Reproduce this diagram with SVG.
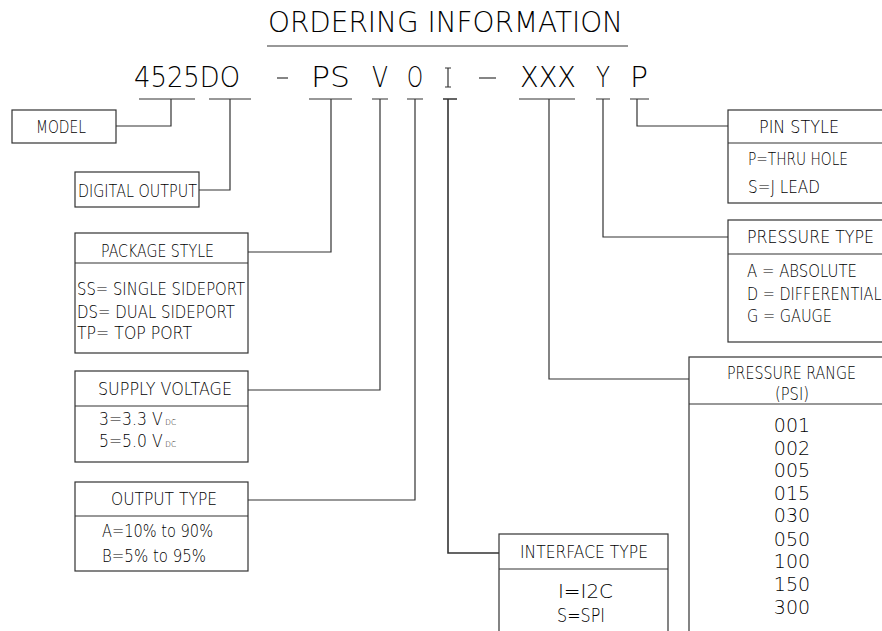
<svg xmlns="http://www.w3.org/2000/svg" width="882" height="631" viewBox="0 0 882 631">
<style>
text{font-family:"DejaVu Sans","Liberation Sans",sans-serif;font-weight:200;fill:#000;}
.t{font-size:17px;}
.big{font-size:28px;}
.num{font-size:19px;}
.sub{font-size:8px;}
rect,line,path{fill:none;stroke:#333;stroke-width:1.2;}
.bx{fill:#fff;}
</style>
<g id="title">
<text class="big" x="268" y="32" textLength="355" lengthAdjust="spacingAndGlyphs">ORDERING INFORMATION</text>
<line x1="267" y1="46" x2="628" y2="46"/>
</g>
<g id="partnumber">
<text class="big" x="134" y="87" textLength="106" lengthAdjust="spacingAndGlyphs">4525DO</text>
<line x1="277" y1="78" x2="288" y2="78"/>
<text class="big" x="311" y="87" textLength="39" lengthAdjust="spacingAndGlyphs">PS</text>
<text class="big" x="372" y="87" textLength="16" lengthAdjust="spacingAndGlyphs">V</text>
<text class="big" x="407" y="87" textLength="16" lengthAdjust="spacingAndGlyphs">O</text>
<path d="M445 68H451M448 68V87M445 87H451"/>
<line x1="479" y1="78" x2="496" y2="78"/>
<text class="big" x="520" y="87" textLength="56" lengthAdjust="spacingAndGlyphs">XXX</text>
<text class="big" x="596" y="87" textLength="14" lengthAdjust="spacingAndGlyphs">Y</text>
<text class="big" x="630" y="87" textLength="18" lengthAdjust="spacingAndGlyphs">P</text>
</g>
<g id="connectors">
<path d="M139 99H195M171 99V126H116"/>
<path d="M209 99H251M230 99V190H199"/>
<path d="M309 99H352M331 99V252H248"/>
<path d="M372 99H388M380 99V390H248"/>
<path d="M407 99H423M415 99V500H248"/>
<path d="M443 99H457M448 99V553H499" style="stroke-width:1.6"/>
<path d="M519 99H575M549 99V379H689"/>
<path d="M596 99H610M603 99V237H728"/>
<path d="M630 99H649M637 99V126H728"/>
</g>
<g id="model">
<rect class="bx" x="12" y="110" width="104" height="33"/>
<text class="t" x="36" y="133" textLength="50" lengthAdjust="spacingAndGlyphs">MODEL</text>
</g>
<g id="digital-output">
<rect class="bx" x="75" y="172" width="124" height="35"/>
<text class="t" x="78" y="197" textLength="119" lengthAdjust="spacingAndGlyphs">DIGITAL OUTPUT</text>
</g>
<g id="package-style">
<rect class="bx" x="75" y="233" width="173" height="120"/>
<line x1="75" y1="263" x2="248" y2="263"/>
<text class="t" x="101" y="257" textLength="113" lengthAdjust="spacingAndGlyphs">PACKAGE STYLE</text>
<text class="t" x="77" y="295" textLength="168" lengthAdjust="spacingAndGlyphs">SS= SINGLE SIDEPORT</text>
<text class="t" x="77" y="318" textLength="158" lengthAdjust="spacingAndGlyphs">DS= DUAL SIDEPORT</text>
<text class="t" x="77" y="339" textLength="115" lengthAdjust="spacingAndGlyphs">TP= TOP PORT</text>
</g>
<g id="supply-voltage">
<rect class="bx" x="75" y="371" width="173" height="91"/>
<line x1="75" y1="406" x2="248" y2="406"/>
<text class="t" x="98" y="395" textLength="134" lengthAdjust="spacingAndGlyphs">SUPPLY VOLTAGE</text>
<text class="t" transform="translate(99 425) scale(0.92 1)">3=3.3 V<tspan class="sub" dx="3">DC</tspan></text>
<text class="t" transform="translate(99 447) scale(0.92 1)">5=5.0 V<tspan class="sub" dx="3">DC</tspan></text>
</g>
<g id="output-type">
<rect class="bx" x="75" y="482" width="173" height="89"/>
<line x1="75" y1="516" x2="248" y2="516"/>
<text class="t" x="111" y="505" textLength="106" lengthAdjust="spacingAndGlyphs">OUTPUT TYPE</text>
<text class="t" x="102" y="537" textLength="111" lengthAdjust="spacingAndGlyphs">A=10% to 90%</text>
<text class="t" x="102" y="562" textLength="104" lengthAdjust="spacingAndGlyphs">B=5% to 95%</text>
</g>
<g id="interface-type">
<rect class="bx" x="499" y="534" width="169" height="110"/>
<line x1="499" y1="569" x2="668" y2="569"/>
<text class="t" x="520" y="558" textLength="128" lengthAdjust="spacingAndGlyphs">INTERFACE TYPE</text>
<text class="num" x="558" y="598" textLength="55" lengthAdjust="spacingAndGlyphs">I=I2C</text>
<text class="num" x="557" y="622" textLength="48" lengthAdjust="spacingAndGlyphs">S=SPI</text>
</g>
<g id="pin-style">
<rect class="bx" x="728" y="110" width="170" height="93"/>
<line x1="728" y1="143" x2="898" y2="143"/>
<text class="t" x="759" y="133" textLength="80" lengthAdjust="spacingAndGlyphs">PIN STYLE</text>
<text class="t" x="748" y="165" textLength="100" lengthAdjust="spacingAndGlyphs">P=THRU HOLE</text>
<text class="t" x="748" y="193" textLength="72" lengthAdjust="spacingAndGlyphs">S=J LEAD</text>
</g>
<g id="pressure-type">
<rect class="bx" x="728" y="220" width="170" height="122"/>
<line x1="728" y1="254" x2="898" y2="254"/>
<text class="t" x="747" y="243" textLength="127" lengthAdjust="spacingAndGlyphs">PRESSURE TYPE</text>
<text class="t" x="747" y="277" textLength="110" lengthAdjust="spacingAndGlyphs">A = ABSOLUTE</text>
<text class="t" transform="translate(747 300) scale(0.85 1)">D = DIFFERENTIAL</text>
<text class="t" x="747" y="322" textLength="85" lengthAdjust="spacingAndGlyphs">G = GAUGE</text>
</g>
<g id="pressure-range">
<rect class="bx" x="689" y="357" width="210" height="290"/>
<line x1="689" y1="404" x2="899" y2="404"/>
<text class="t" x="727" y="379" textLength="129" lengthAdjust="spacingAndGlyphs">PRESSURE RANGE</text>
<text class="t" x="775" y="400" textLength="34" lengthAdjust="spacingAndGlyphs">(PSI)</text>
<g text-anchor="middle">
<text class="num" x="792" y="432">001</text>
<text class="num" x="792" y="455">002</text>
<text class="num" x="792" y="477">005</text>
<text class="num" x="792" y="500">015</text>
<text class="num" x="792" y="522">030</text>
<text class="num" x="792" y="546">050</text>
<text class="num" x="792" y="568">100</text>
<text class="num" x="792" y="591">150</text>
<text class="num" x="792" y="614">300</text>
</g>
</g>
</svg>
